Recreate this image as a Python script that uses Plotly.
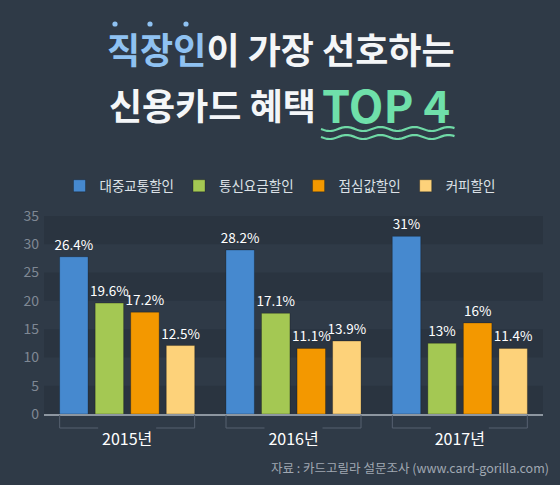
import plotly.graph_objects as go
import math

# ---------------- data ----------------
years = ["2015년", "2016년", "2017년"]
series_names = ["대중교통할인", "통신요금할인", "점심값할인", "커피할인"]
# bar heights as drawn in the picture
transit_vals = [27.8, 29.0, 31.4]
telecom_vals = [19.6, 17.8, 12.5]
lunch_vals = [18.0, 11.6, 16.1]
coffee_vals = [12.1, 12.9, 11.6]
# value labels as printed
transit_labels = ["26.4%", "28.2%", "31%"]
telecom_labels = ["19.6%", "17.1%", "13%"]
lunch_labels = ["17.2%", "11.1%", "16%"]
coffee_labels = ["12.5%", "13.9%", "11.4%"]
y_ticks = [0, 5, 10, 15, 20, 25, 30, 35]

title_line1_hl = "직장인"
title_line1_rest = "이 가장 선호하는"
title_line2 = "신용카드 혜택"
title_top = "TOP 4"
source_text = "자료 : 카드고릴라 설문조사 (www.card-gorilla.com)"

# ---------------- style ----------------
BG = "#2f3a47"
BAND = "#2a3440"
colors = ["#4689cf", "#a4c853", "#f39800", "#fdd27a"]
FONT = "Noto Sans CJK KR"

W_IMG, H_IMG = 560, 485
ML, MR, MT, MB = 44, 17, 216, 71
PW = W_IMG - ML - MR
PH = H_IMG - MT - MB


def px(x):
    return (x - ML) / PW


def py(y):
    return (H_IMG - MB - y) / PH


BARGAP = 0.145
BARGROUPGAP = 0.2

fig = go.Figure()
vals = [transit_vals, telecom_vals, lunch_vals, coffee_vals]
labs = [transit_labels, telecom_labels, lunch_labels, coffee_labels]
for name, v, lab, c in zip(series_names, vals, labs, colors):
    fig.add_trace(go.Bar(
        x=years, y=v, name=name, text=lab,
        textposition="outside", cliponaxis=False, constraintext="none",
        textfont=dict(color="#ffffff", size=13.5, family=FONT),
        marker=dict(color=c, line=dict(color="rgba(0,0,0,0.25)", width=1)),
        hoverinfo="skip",
    ))

shapes = []
# alternating background bands
for y0 in [0, 10, 20, 30]:
    shapes.append(dict(type="rect", xref="paper", yref="y", x0=0, x1=1,
                       y0=y0, y1=y0 + 5, fillcolor=BAND, line=dict(width=0),
                       layer="below"))

# brackets under each group
n = len(years)
half_px = 67.5
gap_px = 29
yb_top = py(415)
yb = py(428)
lc = "#566170"
for i in range(n):
    cx = ML + (i + 0.5) / n * PW
    l = cx - half_px
    r = cx + half_px
    for seg in [(l, l, yb_top, yb), (r, r, yb_top, yb),
                (l, cx - gap_px, yb, yb), (cx + gap_px, r, yb, yb)]:
        shapes.append(dict(type="line", xref="paper", yref="paper",
                           x0=px(seg[0]), x1=px(seg[1]), y0=seg[2], y1=seg[3],
                           line=dict(color=lc, width=1)))

# emphasis dots over the highlighted word
for dx in [115, 150, 186]:
    rr = 2.6
    shapes.append(dict(type="circle", xref="paper", yref="paper",
                       x0=px(dx - rr), x1=px(dx + rr), y0=py(24 + rr), y1=py(24 - rr),
                       fillcolor="#8fc2f2", line=dict(width=0)))

# wavy underline under TOP 4 (decoration)
for wy in [129, 137]:
    pts = []
    x = 321.0
    while x <= 455:
        yy = wy + 2.0 * math.sin((x - 321) / 34.0 * 2 * math.pi)
        pts.append((px(x), py(yy)))
        x += 1.5
    path = "M " + " L ".join(f"{a:.5f},{b:.5f}" for a, b in pts)
    shapes.append(dict(type="path", xref="paper", yref="paper", path=path,
                       line=dict(color="#6fd9a6", width=2.2)))

annotations = [
    dict(xref="paper", yref="paper", x=px(281), y=py(48), xanchor="center", yanchor="middle",
         showarrow=False,
         text=f"<span style='color:#8fc2f2'>{title_line1_hl}</span>{title_line1_rest}",
         font=dict(family=FONT, size=36, color="#f4f6f8", weight="bold")),
    dict(xref="paper", yref="paper", x=px(318), y=py(104), xanchor="right", yanchor="middle",
         showarrow=False, text=title_line2,
         font=dict(family=FONT, size=36, color="#f4f6f8", weight="bold")),
    dict(xref="paper", yref="paper", x=px(320), y=py(103), xanchor="left", yanchor="middle",
         showarrow=False, text=title_top,
         font=dict(family=FONT, size=45, color="#6fe0aa", weight="bold")),
    dict(xref="paper", yref="paper", x=px(551), y=py(467), xanchor="right", yanchor="middle",
         showarrow=False, text=source_text,
         font=dict(family=FONT, size=12.5, color="#a0a8b2")),
]

fig.update_layout(
    width=W_IMG, height=H_IMG,
    margin=dict(l=ML, r=MR, t=MT, b=MB, pad=0, autoexpand=False),
    paper_bgcolor=BG, plot_bgcolor=BG,
    barmode="group", bargap=BARGAP, bargroupgap=BARGROUPGAP,
    font=dict(family=FONT, color="#ffffff"),
    shapes=shapes, annotations=annotations,
    legend=dict(orientation="h", xref="container", yref="container",
                x=0.5, xanchor="center", y=1 - 186 / H_IMG, yanchor="middle",
                font=dict(family=FONT, size=13.5, color="#dde2e7"),
                bgcolor="rgba(0,0,0,0)", traceorder="normal"),
    xaxis=dict(showgrid=False, zeroline=False, showline=True, linecolor="#8d96a0",
               linewidth=2, ticks="", tickfont=dict(family=FONT, size=16, color="#ffffff"),
               ticklabelstandoff=10, fixedrange=True),
    yaxis=dict(range=[0, 35], tickvals=y_ticks, showgrid=False, zeroline=False,
               showline=False, ticks="", tickfont=dict(family=FONT, size=14, color="#7f8894"),
               ticklabelstandoff=4, fixedrange=True),
    showlegend=True,
)

fig.write_html("out.html")
